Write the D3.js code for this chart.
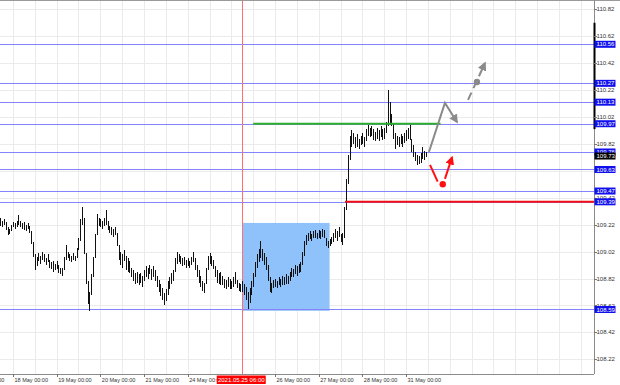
<!DOCTYPE html>
<html><head><meta charset="utf-8">
<script src="https://cdn.jsdelivr.net/npm/d3@7"></script>
<style>html,body{margin:0;padding:0;background:#fff;overflow:hidden}</style>
</head><body><svg id="c" width="620" height="385"></svg>
<script>
// bar index = hours since 17 May 00:00 (weekend removed)
const firstBar = 17;
const highs = [
109.27,109.25,109.26,109.24,109.20,109.19,109.22,109.24,109.23,109.25,
109.29,109.25,109.23,109.24,109.22,109.23,109.21,109.17,109.09,109.00,
108.98,109.01,108.99,109.02,109.00,108.97,109.00,108.96,108.94,108.95,
108.93,108.95,108.92,108.90,108.90,108.98,109.07,109.02,109.00,108.99,
109.01,108.99,109.05,109.12,109.26,109.35,109.27,109.01,108.80,108.72,
108.85,108.98,109.15,109.30,109.27,109.26,109.25,109.27,109.33,109.25,
109.21,109.20,109.19,109.20,109.16,109.07,109.02,109.00,109.03,108.99,
108.97,108.95,108.90,108.88,108.86,108.87,108.85,108.86,108.84,108.88,
108.91,108.90,108.92,108.89,108.91,108.88,108.84,108.81,108.78,108.75,
108.71,108.74,108.80,108.83,108.86,108.88,108.97,109.02,109.00,108.99,
108.97,108.98,108.96,108.97,108.95,108.98,109.02,108.97,108.92,108.88,
108.84,108.80,108.79,108.90,108.99,109.01,108.99,108.96,108.91,108.88,
108.86,108.87,108.84,108.82,108.81,108.83,108.82,108.80,108.83,108.87,
108.81,108.79,108.78,108.80,108.78,108.76,108.72,108.75,108.80,108.86,
108.94,109.00,109.04,109.10,109.04,109.01,108.98,108.92,108.83,108.79,
108.81,108.82,108.80,108.83,108.82,108.84,108.83,108.85,108.84,108.87,
108.90,108.89,108.92,108.91,108.93,108.94,109.02,109.10,109.14,109.16,
109.17,109.15,109.17,109.18,109.16,109.18,109.17,109.19,109.18,109.12,
109.10,109.11,109.13,109.16,109.19,109.17,109.20,109.15,109.16,109.35,
109.56,109.74,109.88,109.92,109.90,109.87,109.89,109.86,109.88,109.90,
109.87,109.93,109.96,109.94,109.95,109.93,109.91,109.94,109.92,109.95,
109.93,109.94,109.98,110.22,110.13,110.04,109.97,109.90,109.88,109.87,
109.89,109.88,109.90,109.92,109.94,109.96,109.86,109.81,109.76,109.74,
109.73,109.75,109.80,109.77,109.76];
const lows = [
109.21,109.20,109.22,109.18,109.14,109.15,109.17,109.20,109.19,109.20,
109.22,109.20,109.19,109.18,109.17,109.19,109.16,109.08,108.98,108.88,
108.91,108.95,108.93,108.96,108.94,108.92,108.94,108.90,108.89,108.87,
108.88,108.89,108.86,108.85,108.84,108.88,108.96,108.97,108.95,108.94,
108.96,108.95,108.97,109.03,109.10,109.22,109.00,108.78,108.63,108.58,
108.70,108.83,108.97,109.14,109.21,109.20,109.19,109.21,109.22,109.18,
109.16,109.14,109.13,109.14,109.06,108.96,108.92,108.90,108.95,108.88,
108.87,108.86,108.83,108.80,108.78,108.79,108.77,108.79,108.76,108.80,
108.83,108.82,108.85,108.81,108.83,108.80,108.76,108.72,108.69,108.66,
108.62,108.65,108.70,108.74,108.78,108.80,108.87,108.93,108.94,108.93,
108.91,108.92,108.90,108.91,108.90,108.92,108.94,108.88,108.83,108.79,
108.76,108.73,108.71,108.78,108.88,108.93,108.91,108.89,108.83,108.79,
108.78,108.77,108.77,108.75,108.74,108.76,108.74,108.74,108.76,108.78,
108.75,108.73,108.72,108.72,108.70,108.66,108.59,108.64,108.70,108.76,
108.83,108.90,108.94,108.97,108.95,108.92,108.88,108.80,108.72,108.71,
108.75,108.76,108.75,108.77,108.76,108.77,108.77,108.78,108.78,108.80,
108.83,108.83,108.85,108.84,108.86,108.87,108.92,108.99,109.07,109.10,
109.11,109.10,109.12,109.12,109.11,109.12,109.11,109.13,109.12,109.06,
109.05,109.06,109.08,109.09,109.12,109.10,109.13,109.09,109.07,109.12,
109.33,109.52,109.70,109.80,109.82,109.79,109.80,109.78,109.81,109.82,
109.80,109.84,109.88,109.87,109.88,109.85,109.84,109.86,109.84,109.87,
109.85,109.86,109.90,109.95,109.96,109.95,109.86,109.78,109.81,109.80,
109.82,109.80,109.83,109.84,109.86,109.85,109.76,109.72,109.69,109.66,
109.67,109.68,109.71,109.70,109.72];

// 25 May 00:00 label sits under the red time marker in the reference, so it is not drawn
const dayLabels = ["17 May 00:00","18 May 00:00","19 May 00:00","20 May 00:00","21 May 00:00",
  "24 May 00:00","26 May 00:00","27 May 00:00","28 May 00:00","31 May 00:00"];
const dayBars = [0,24,48,72,96,120,168,192,216,240];
const priceTicks = [108.22,108.42,108.62,108.82,109.02,109.22,109.42,109.62,109.82,110.02,110.22,110.42,110.62,110.82];
const levels = [110.56,110.27,110.13,109.97,109.76,109.63,109.47,109.39,108.59];
const lastPrice = 109.73;
const markerBar = 150;
const markerLabel = "2021.05.25 06:00";
const zoneBars = [150,198];
const zonePrices = [109.233,108.58];
const greenBars = [156,259];
const greenPrice = 109.97;
const redBars = [206.5,400];
const redPrice = 109.39;
// forecast arrows: [bar, price]
const graySolid = [[252.6,109.76],[261.4,110.125],[268,109.983]];
const grayDashed = [[274.1,110.147],[283.4,110.42]];
const grayDot = [279,110.28];
const redSeg1 = [[253.2,109.664],[257.4,109.54]];
const redSeg2 = [[261.4,109.56],[265.3,109.72]];
const redDot = [260.2,109.52];

const plotR = 594, plotB = 374;
const x = d3.scaleLinear().domain([24,240]).range([13,406]);
const y = d3.scaleLinear().domain([108.22,110.82]).range([359.3,9.3]);
const svg = d3.select("#c");
const FONT = "Liberation Sans, Arial, sans-serif";

const defs = svg.append("defs");
defs.append("clipPath").attr("id","plot").append("rect").attr("x",0).attr("y",0).attr("width",plotR).attr("height",plotB);
function marker(id,color){
  defs.append("marker").attr("id",id).attr("viewBox","0 0 10 10").attr("refX",8).attr("refY",5)
    .attr("markerWidth",9).attr("markerHeight",9).attr("markerUnits","userSpaceOnUse").attr("orient","auto")
    .append("path").attr("d","M0,0L10,5L0,10z").attr("fill",color);
}
marker("ag","#8a8a8a"); marker("ar","#ff1010");

const plot = svg.append("g").attr("clip-path","url(#plot)");
const crisp = v => Math.round(v)+0.5;

// grid
const gridBars = d3.range(0,348,12);
plot.append("g").selectAll("line").data(gridBars).join("line")
  .attr("x1",d=>crisp(x(d))).attr("x2",d=>crisp(x(d))).attr("y1",0).attr("y2",plotB)
  .attr("stroke","#ebebeb").attr("stroke-width",1);
plot.append("g").selectAll("line").data(priceTicks).join("line")
  .attr("x1",0).attr("x2",plotR).attr("y1",d=>crisp(y(d))).attr("y2",d=>crisp(y(d)))
  .attr("stroke","#ebebeb").attr("stroke-width",1);

// zone
plot.append("rect").attr("x",x(zoneBars[0])).attr("width",x(zoneBars[1])-x(zoneBars[0]))
  .attr("y",y(zonePrices[0])).attr("height",y(zonePrices[1])-y(zonePrices[0]))
  .attr("fill","#8fc2fb");

// level lines
plot.append("g").selectAll("line").data(levels).join("line")
  .attr("x1",0).attr("x2",plotR).attr("y1",d=>crisp(y(d))).attr("y2",d=>crisp(y(d)))
  .attr("stroke","#8484ff").attr("stroke-width",1);

// vertical marker line
plot.append("line").attr("x1",crisp(x(markerBar))).attr("x2",crisp(x(markerBar))).attr("y1",0).attr("y2",plotB)
  .attr("stroke","#ff7070").attr("stroke-width",1);

// bars
plot.append("g").selectAll("line").data(highs.map((h,i)=>({i:firstBar+i,h,l:lows[i]}))).join("line")
  .attr("x1",d=>crisp(x(d.i))).attr("x2",d=>crisp(x(d.i)))
  .attr("y1",d=>Math.round(y(d.h))).attr("y2",d=>Math.max(Math.round(y(d.l)),Math.round(y(d.h))+2))
  .attr("stroke","#111").attr("stroke-width",1);

// green & red level segments
plot.append("line").attr("x1",x(greenBars[0])).attr("x2",x(greenBars[1])).attr("y1",y(greenPrice)).attr("y2",y(greenPrice))
  .attr("stroke","#2fae2f").attr("stroke-width",2);
plot.append("line").attr("x1",x(redBars[0])).attr("x2",x(redBars[1])).attr("y1",y(redPrice)).attr("y2",y(redPrice))
  .attr("stroke","#f01010").attr("stroke-width",2);

// arrows
const ln = d3.line().x(d=>x(d[0])).y(d=>y(d[1]));
plot.append("path").attr("d",ln(graySolid)).attr("fill","none").attr("stroke","#8a8a8a").attr("stroke-width",2).attr("marker-end","url(#ag)");
plot.append("path").attr("d",ln(grayDashed)).attr("fill","none").attr("stroke","#8a8a8a").attr("stroke-width",2)
  .attr("stroke-dasharray","8,5").attr("marker-end","url(#ag)");
plot.append("circle").attr("cx",x(grayDot[0])).attr("cy",y(grayDot[1])).attr("r",3.2).attr("fill","#8a8a8a");
plot.append("path").attr("d",ln(redSeg1)).attr("fill","none").attr("stroke","#ff1010").attr("stroke-width",2);
plot.append("path").attr("d",ln(redSeg2)).attr("fill","none").attr("stroke","#ff1010").attr("stroke-width",2).attr("marker-end","url(#ar)");
plot.append("circle").attr("cx",x(redDot[0])).attr("cy",y(redDot[1])).attr("r",3.2).attr("fill","#ff1010");

// frame
svg.append("line").attr("x1",0).attr("x2",620).attr("y1",0.5).attr("y2",0.5).attr("stroke","#9a9a9a");
svg.append("line").attr("x1",plotR+0.5).attr("x2",plotR+0.5).attr("y1",0).attr("y2",plotB).attr("stroke","#8a8a8a");
svg.append("line").attr("x1",0).attr("x2",plotR).attr("y1",plotB+0.5).attr("y2",plotB+0.5).attr("stroke","#8a8a8a");
svg.append("line").attr("x1",plotR+0.5).attr("x2",plotR+0.5).attr("y1",y(110.72)).attr("y2",y(109.93)).attr("stroke","#000").attr("stroke-width",2);

// right axis labels
const ra = svg.append("g");
ra.selectAll("line").data(priceTicks).join("line").attr("x1",plotR).attr("x2",plotR+3)
  .attr("y1",d=>crisp(y(d))).attr("y2",d=>crisp(y(d))).attr("stroke","#777");
ra.selectAll("text").data(priceTicks).join("text").attr("x",plotR+2.5).attr("y",d=>y(d)).attr("dy","0.35em")
  .attr("font-family",FONT).attr("font-size",6).attr("fill","#333").text(d=>d.toFixed(2));
const lv = svg.append("g").selectAll("g").data(levels).join("g");
lv.append("rect").attr("x",plotR+0.5).attr("width",21).attr("y",d=>y(d)-3.5).attr("height",7).attr("fill","#1010ee");
lv.append("text").attr("x",plotR+2.5).attr("y",d=>y(d)).attr("dy","0.35em").attr("font-family",FONT).attr("font-size",6)
  .attr("fill","#fff").text(d=>d.toFixed(2));
svg.append("rect").attr("x",plotR+0.5).attr("width",21).attr("y",y(lastPrice)-3.5).attr("height",7).attr("fill","#000");
svg.append("text").attr("x",plotR+2.5).attr("y",y(lastPrice)).attr("dy","0.35em").attr("font-family",FONT).attr("font-size",6)
  .attr("fill","#fff").text(lastPrice.toFixed(2));

// bottom axis
const ba = svg.append("g");
ba.selectAll("line").data(dayBars).join("line").attr("x1",d=>crisp(x(d))).attr("x2",d=>crisp(x(d)))
  .attr("y1",plotB).attr("y2",plotB+3).attr("stroke","#777");
ba.selectAll("text").data(dayBars).join("text").attr("x",d=>x(d)+1.5).attr("y",380).attr("dy","0.35em")
  .attr("font-family",FONT).attr("font-size",6).attr("fill","#333")
  .attr("textLength",33.5).attr("lengthAdjust","spacingAndGlyphs").text((d,i)=>dayLabels[i]);
const mx = x(markerBar);
svg.append("rect").attr("x",mx-25.5).attr("y",375.5).attr("width",49).attr("height",8.5).attr("fill","#ff0000");
svg.append("text").attr("x",mx-1).attr("y",380).attr("dy","0.35em").attr("text-anchor","middle")
  .attr("font-family",FONT).attr("font-size",6).attr("fill","#fff").text(markerLabel);
</script></body></html>
